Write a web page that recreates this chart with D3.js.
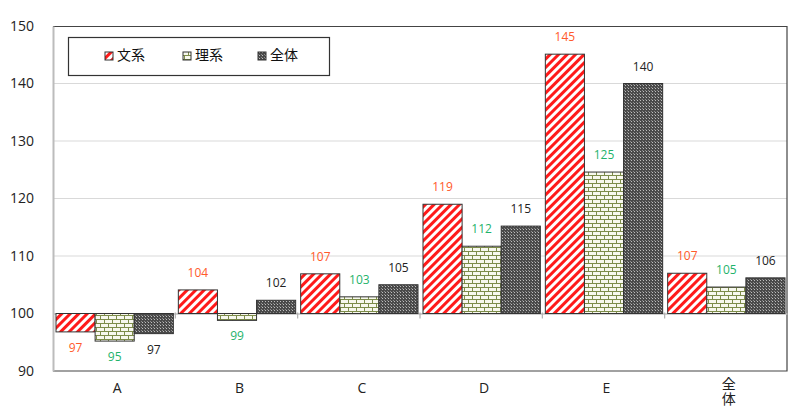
<!DOCTYPE html>
<html><head><meta charset="utf-8">
<script src="https://cdn.jsdelivr.net/npm/d3@7"></script>
<style>
body{margin:0;background:#fff;}
svg{display:block;font-family:"Open Sans","Noto Sans CJK JP",sans-serif;}
</style></head>
<body><svg id="c" width="800" height="420"></svg>
<script>
const categories = ["A","B","C","D","E","全体"];
const seriesNames = ["文系","理系","全体"];
const bunkei = [96.8, 104.1, 106.9, 119.0, 145.1, 107.0];
const rikei  = [95.2, 98.8, 102.9, 111.7, 124.6, 104.6];
const zentai = [96.5, 102.3, 105.0, 115.2, 140.0, 106.2];
const labelBunkei = ["97","104","107","119","145","107"];
const labelRikei  = ["95","99","103","112","125","105"];
const labelZentai = ["97","102","105","115","140","106"];
const yTicks = [90,100,110,120,130,140,150];

const svg = d3.select("#c");
const L = 53, R = 787, T = 26, B = 371;
const y = d3.scaleLinear().domain([90,150]).range([B,T]);
const x = d3.scaleBand().domain(categories).range([L,R]).padding(0);
const x1 = d3.scaleBand().domain(seriesNames).range([3, x.bandwidth()-2]).padding(0);

// patterns
const defs = svg.append("defs");
const p1 = defs.append("pattern").attr("id","pRed").attr("patternUnits","userSpaceOnUse")
  .attr("width",6).attr("height",6).attr("patternTransform","rotate(45)");
p1.append("rect").attr("width",6).attr("height",6).attr("fill","#fff");
p1.append("rect").attr("width",3).attr("height",6).attr("fill","#ff1a1a");

const p2 = defs.append("pattern").attr("id","pGreen").attr("patternUnits","userSpaceOnUse")
  .attr("width",8).attr("height",8);
p2.append("rect").attr("width",8).attr("height",8).attr("fill","#f7f8ee");
p2.append("rect").attr("x",0).attr("y",3).attr("width",8).attr("height",1).attr("fill","#7d8c4a");
p2.append("rect").attr("x",0).attr("y",7).attr("width",8).attr("height",1).attr("fill","#7d8c4a");
p2.append("rect").attr("x",0).attr("y",0).attr("width",1).attr("height",3).attr("fill","#7d8c4a");
p2.append("rect").attr("x",4).attr("y",4).attr("width",1).attr("height",3).attr("fill","#7d8c4a");

const p3 = defs.append("pattern").attr("id","pDark").attr("patternUnits","userSpaceOnUse")
  .attr("width",3).attr("height",3);
p3.append("rect").attr("width",3).attr("height",3).attr("fill","#4a4a4a");
p3.append("rect").attr("x",1).attr("y",1).attr("width",1).attr("height",1).attr("fill","#bdbdbd");
p3.append("rect").attr("x",0).attr("y",0).attr("width",1).attr("height",1).attr("fill","#8a8a8a");

const fills = ["url(#pRed)","url(#pGreen)","url(#pDark)"];
const labelColors = ["#ff5a2a","#1fb36b","#222"];

// gridlines
svg.append("g").selectAll("line").data(yTicks.filter(t=>t>100 && t<150)).join("line")
  .attr("x1",L).attr("x2",R).attr("y1",d=>y(d)).attr("y2",d=>y(d))
  .attr("stroke","#d9d9d9").attr("stroke-width",1);

// plot border (top,right,bottom)
svg.append("path").attr("d",`M${L},${T+0.5}H${R}V${B}H${L}`).attr("fill","none")
  .attr("stroke","#444").attr("stroke-width",1.2);

// category axis at 100
const axisG = svg.append("g").attr("transform",`translate(0,${y(100)})`);
const xAxis = d3.axisBottom(x).tickValues([]).tickSizeOuter(0);
axisG.call(xAxis);
axisG.select(".domain").attr("stroke","#c0c0c0").attr("stroke-width",1.5);
const bounds = categories.slice(1).map(c=>x(c));
axisG.selectAll("line.tk").data(bounds).join("line").attr("class","tk")
  .attr("x1",d=>d).attr("x2",d=>d).attr("y1",-1).attr("y2",5)
  .attr("stroke","#b0b0b0").attr("stroke-width",1.2);

// y axis
const yAxis = d3.axisLeft(y).tickValues(yTicks).tickSize(0).tickPadding(19);
const yg = svg.append("g").attr("transform",`translate(${L},0)`).call(yAxis);
yg.select(".domain").attr("stroke","#bcbcbc").attr("stroke-width",2);
yg.selectAll("text").attr("font-size",14).attr("fill","#222")
  .attr("font-family","'Open Sans','Noto Sans CJK JP',sans-serif");

// bars
const allValues = [bunkei, rikei, zentai];
const allLabels = [labelBunkei, labelRikei, labelZentai];
const rows = [];
categories.forEach((c,i)=>seriesNames.forEach((s,j)=>rows.push({c,s,j,v:allValues[j][i],lab:allLabels[j][i]})));

svg.append("g").selectAll("rect").data(rows).join("rect")
  .attr("x",d=>x(d.c)+x1(d.s))
  .attr("width",x1.bandwidth())
  .attr("y",d=>y(Math.max(d.v,100)))
  .attr("height",d=>Math.abs(y(d.v)-y(100)))
  .attr("fill",d=>fills[d.j])
  .attr("stroke","#333").attr("stroke-width",1);

svg.append("g").selectAll("text").data(rows).join("text")
  .attr("x",d=>x(d.c)+x1(d.s)+x1.bandwidth()/2)
  .attr("y",d=> d.v>=100 ? y(d.v)-13 : y(d.v)+20)
  .attr("text-anchor","middle")
  .attr("font-size",12)
  .attr("fill",d=>labelColors[d.j])
  .text(d=>d.lab);

// category labels
const catG = svg.append("g");
categories.forEach(c=>{
  const cx = x(c)+x.bandwidth()/2+3;
  if (c.length>1){
    catG.append("text").attr("x",cx).attr("y",377)
      .attr("style","writing-mode:vertical-rl;letter-spacing:1px")
      .attr("font-family","'Noto Sans CJK JP',sans-serif")
      .attr("font-size",14).attr("fill","#222").text(c);
  } else {
    catG.append("text").attr("x",cx).attr("y",393).attr("text-anchor","middle")
      .attr("font-size",14).attr("fill","#222").text(c);
  }
});

// legend
const lg = svg.append("g");
lg.append("rect").attr("x",68.5).attr("y",37.5).attr("width",261).attr("height",38)
  .attr("fill","#fff").attr("stroke","#333").attr("stroke-width",1.2);
const legX = [105,183,258];
seriesNames.forEach((s,j)=>{
  lg.append("rect").attr("x",legX[j]).attr("y",52).attr("width",8).attr("height",8)
    .attr("fill",fills[j]).attr("stroke","#333").attr("stroke-width",1);
  lg.append("text").attr("x",legX[j]+12).attr("y",60).attr("font-size",14)
    .attr("fill","#111").attr("font-family","'Noto Sans CJK JP',sans-serif").text(s);
});
</script></body></html>
